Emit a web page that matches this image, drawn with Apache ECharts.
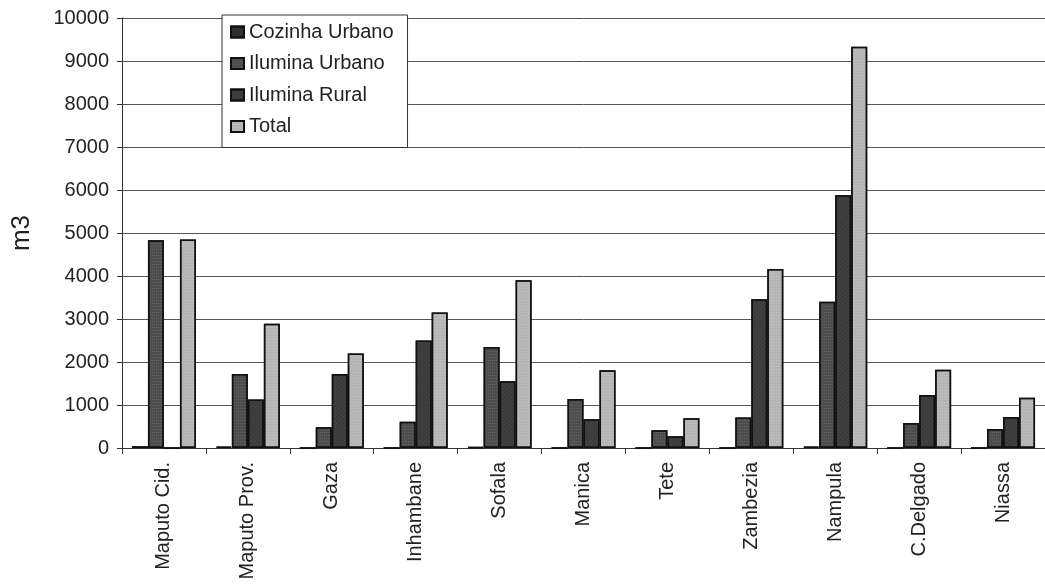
<!DOCTYPE html>
<html>
<head>
<meta charset="utf-8">
<script src="https://cdn.jsdelivr.net/npm/echarts@6/dist/echarts.min.js"></script>
<style>
  html, body { margin: 0; padding: 0; background: #fff; }
  #chart { width: 1045px; height: 588px; }
</style>
</head>
<body>
<div id="chart"></div>
<script>
// Provinces (category axis)
const provinces = ['Maputo Cid.', 'Maputo Prov.', 'Gaza', 'Inhambane', 'Sofala', 'Manica',
                   'Tete', 'Zambezia', 'Nampula', 'C.Delgado', 'Niassa'];

// Consumption per province, m3
const cozinhaUrbano = [40, 30, 0, 0, 20, 0, 0, 0, 30, 0, 0];
const iluminaUrbano = [4830, 1720, 480, 610, 2350, 1140, 410, 710, 3400, 580, 440];
const iluminaRural  = [0, 1130, 1720, 2500, 1550, 670, 275, 3460, 5880, 1230, 720];
const total         = [4850, 2890, 2200, 3150, 3900, 1810, 690, 4160, 9330, 1820, 1170];

// Value axis ticks
const yMin = 0, yMax = 10000, yStep = 1000;

const FONT = 'Liberation Sans, Arial, sans-serif';

function barSeries(name, data, color, decalColor) {
  return {
    name: name,
    type: 'bar',
    data: data,
    barWidth: 16,
    barGap: '0%',
    itemStyle: {
      color: color,
      borderColor: '#111',
      borderWidth: 1.5,
      decal: {
        symbol: 'rect',
        symbolSize: 0.7,
        dashArrayX: [1, 1],
        dashArrayY: [1, 2],
        color: decalColor
      }
    }
  };
}

const chart = echarts.init(document.getElementById('chart'), null, { renderer: 'canvas' });

chart.setOption({
  backgroundColor: '#fff',
  animation: false,
  aria: { enabled: true, decal: { show: true } },
  textStyle: { fontFamily: FONT },
  grid: { left: 122, right: 0, top: 18, bottom: 140 },
  legend: {
    orient: 'vertical',
    left: 222,
    top: 15,
    padding: [7, 14, 11, 8],
    itemGap: 11.5,
    itemWidth: 13,
    itemHeight: 11,
    icon: 'rect',
    backgroundColor: '#fff',
    borderColor: '#333',
    borderWidth: 1,
    borderRadius: 0,
    textStyle: { fontFamily: FONT, fontSize: 20, color: '#222', padding: [0, 0, 0, 0] },
    data: ['Cozinha Urbano', 'Ilumina Urbano', 'Ilumina Rural', 'Total']
  },
  xAxis: {
    type: 'category',
    data: provinces,
    boundaryGap: true,
    axisLine: { lineStyle: { color: '#333', width: 1 } },
    axisTick: { show: true, length: 6, lineStyle: { color: '#333' } },
    axisLabel: { rotate: 90, margin: 14, fontSize: 20, color: '#222', fontFamily: FONT, interval: 0 },
    splitLine: { show: false }
  },
  yAxis: {
    type: 'value',
    min: yMin,
    max: yMax,
    interval: yStep,
    name: 'm3',
    nameLocation: 'middle',
    nameGap: 87,
    nameRotate: 90,
    nameTextStyle: { fontSize: 26, color: '#222', fontFamily: FONT },
    axisLine: { show: true, lineStyle: { color: '#333', width: 1 } },
    axisTick: { show: true, length: 5, lineStyle: { color: '#333' } },
    axisLabel: { margin: 13, fontSize: 20, color: '#222', fontFamily: FONT,
                 formatter: function (v) { return String(v); } },
    splitLine: { show: true, lineStyle: { color: '#555', width: 1 } }
  },
  series: [
    barSeries('Cozinha Urbano', cozinhaUrbano, '#2b2b2b', 'rgba(255,255,255,0.25)'),
    barSeries('Ilumina Urbano', iluminaUrbano, '#4d4d4d', 'rgba(255,255,255,0.35)'),
    barSeries('Ilumina Rural', iluminaRural, '#3a3a3a', 'rgba(255,255,255,0.3)'),
    barSeries('Total', total, '#b5b5b5', 'rgba(255,255,255,0.55)')
  ]
});
</script>
</body>
</html>
